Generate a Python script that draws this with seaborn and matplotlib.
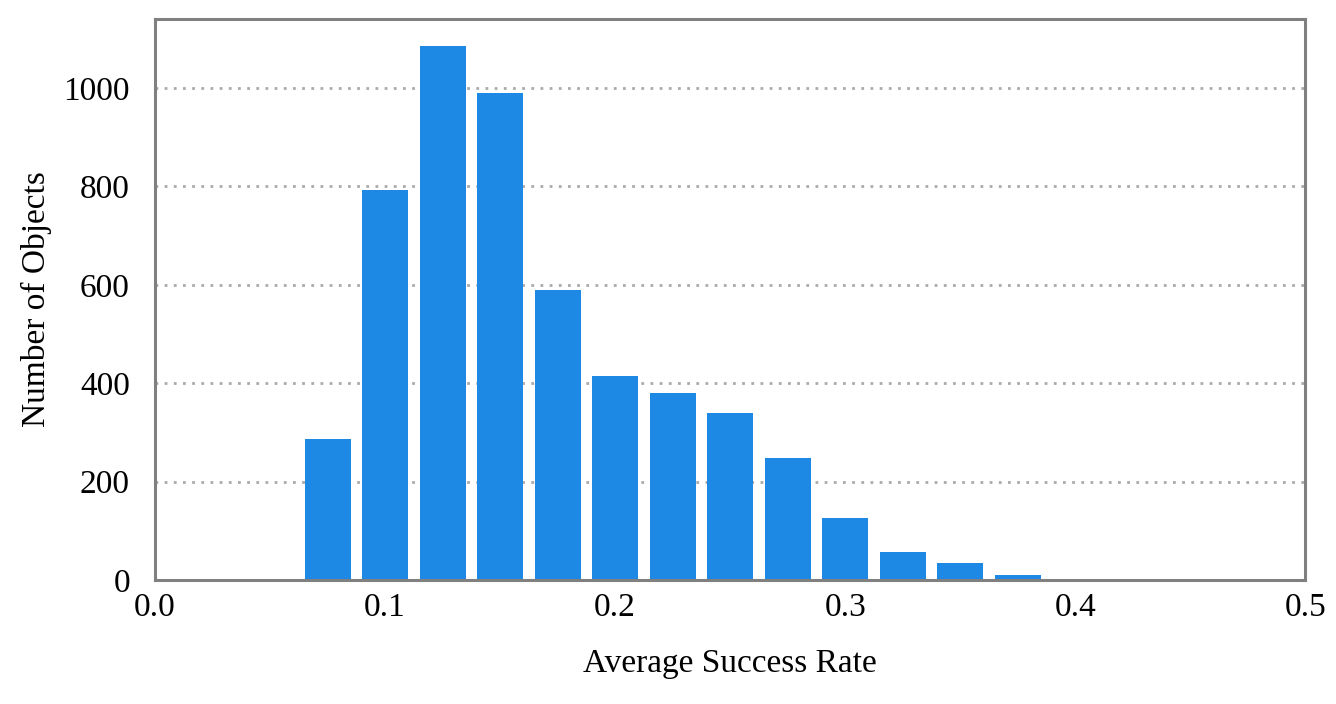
import matplotlib
matplotlib.use("Agg")
import matplotlib.pyplot as plt
import seaborn as sns
import pandas as pd

# bin centers of the success-rate histogram and object counts per bin
bin_centers = [0.075, 0.1, 0.125, 0.15, 0.175, 0.2, 0.225, 0.25, 0.275, 0.3, 0.325, 0.35, 0.375, 0.4]
counts = [287, 793, 1085, 990, 589, 415, 380, 339, 248, 126, 57, 35, 10, 2]

x_ticks = [0.0, 0.1, 0.2, 0.3, 0.4, 0.5]
y_ticks = [0, 200, 400, 600, 800, 1000]

sns.set_style("white")
plt.rcParams["font.family"] = ["Liberation Serif", "DejaVu Serif"]
plt.rcParams["font.size"] = 24
plt.rcParams["text.color"] = "black"
plt.rcParams["axes.labelcolor"] = "black"
plt.rcParams["xtick.color"] = "black"
plt.rcParams["ytick.color"] = "black"

df = pd.DataFrame({"rate": bin_centers, "count": counts})

fig = plt.figure(figsize=(13.36, 7.04), dpi=100)
ax = fig.add_axes([0.116, 0.176, 0.861, 0.797])

sns.barplot(data=df, x="rate", y="count", native_scale=True, width=0.8,
            color="#1E88E5", saturation=1, errorbar=None, linewidth=0,
            ax=ax, zorder=2)

ax.set_xlim(0, 0.5)
ax.set_ylim(0, 1140)
ax.set_xticks(x_ticks)
ax.set_xticklabels([f"{t:.1f}" for t in x_ticks])
ax.set_yticks(y_ticks)
ax.yaxis.grid(True, linestyle=(0, (1, 2.3)), linewidth=2.0, color="#aaaaaa", zorder=0)
ax.set_axisbelow(True)
ax.tick_params(axis="x", length=0, labelsize=24, pad=9)
ax.tick_params(axis="y", length=0, labelsize=24, pad=18)

for side in ["left", "right", "top", "bottom"]:
    ax.spines[side].set_visible(True)
    ax.spines[side].set_color("#808080")
    ax.spines[side].set_linewidth(2.2)

ax.set_xlabel("Average Success Rate", fontsize=24, labelpad=18)
ax.set_ylabel("Number of Objects", fontsize=24, labelpad=8)

fig.savefig("out.png", dpi=100)
